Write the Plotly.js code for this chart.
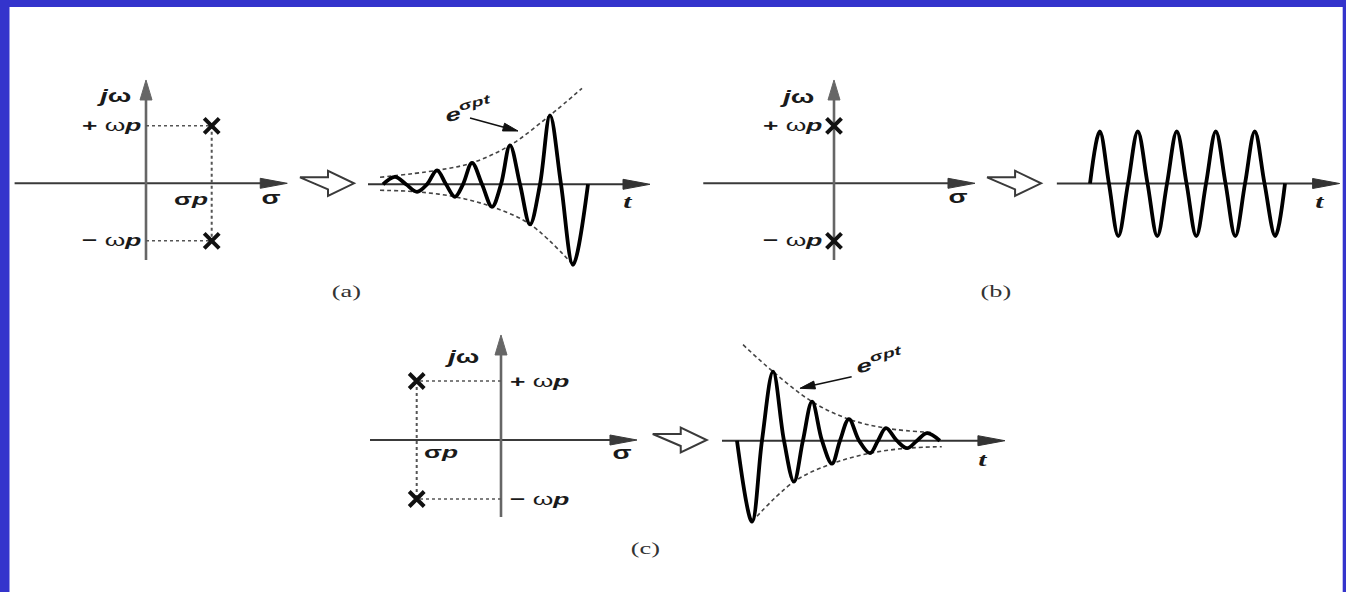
<!DOCTYPE html>
<html><head><meta charset="utf-8">
<script src="https://cdn.plot.ly/plotly-3.0.1.min.js"></script>
<style>html,body{margin:0;padding:0;background:#fff;overflow:hidden}#chart{width:1346px;height:592px}</style>
</head><body><div id="chart"></div>
<script>
// ---------------- data ----------------
// pole positions (sigma in units of sigma_p, omega in units of omega_p)
const poleSigmaA = [1, 1];
const poleOmegaA = [1, -1];
const poleSigmaB = [0, 0];
const poleOmegaB = [1, -1];
const poleSigmaC = [-1, -1];
const poleOmegaC = [1, -1];

// (a) growing oscillation: extrema and zero crossings
const timeA = [0, 0.6, 1.15, 1.7, 2.2, 2.7, 3.15, 3.6, 4.0, 4.45, 4.95, 5.45, 5.9, 6.35, 6.85, 7.35, 7.85, 8.35, 8.9, 9.5, 10.25];
const waveA = [0, 0.75, 0, -0.75, 0, 1.4, 0, -1.25, 0, 2.15, 0, -2.25, 0, 3.9, 0, -4.0, 0, 6.9, 0, -8.05, 0];
const envUpTimeA = [-0.15, 2.7, 4.45, 6.35, 8.35, 9.95];
const envUpA = [0.7, 1.4, 2.15, 3.9, 6.9, 9.6];
const envLoTimeA = [-0.15, 1.7, 3.6, 5.45, 7.35, 9.5];
const envLoA = [-0.6, -0.75, -1.25, -2.25, -4.0, -8.05];

// (b) constant-amplitude oscillation
const timeB = [0, 0.5, 0.97, 1.45, 1.95, 2.45, 2.95, 3.45, 3.95, 4.45, 4.95, 5.45, 5.95, 6.45, 6.95, 7.45, 7.95, 8.45, 8.95, 9.5, 10.0];
const waveB = [0, 5.2, 0, -5.25, 0, 5.2, 0, -5.25, 0, 5.2, 0, -5.25, 0, 5.2, 0, -5.25, 0, 5.2, 0, -5.25, 0];

// (c) decaying oscillation
const timeC = [0, 0.77, 1.28, 1.85, 2.41, 2.92, 3.38, 3.85, 4.36, 4.87, 5.28, 5.74, 6.26, 6.82, 7.23, 7.64, 8.2, 8.72, 9.23, 9.74, 10.4];
const waveC = [0, -8.1, 0, 6.9, 0, -4.1, 0, 3.9, 0, -2.3, 0, 2.15, 0, -1.25, 0, 1.25, 0, -0.75, 0, 0.75, 0];
const envUpTimeC = [0.31, 1.85, 3.85, 5.74, 7.64, 10.1];
const envUpC = [9.6, 6.9, 3.9, 2.15, 1.25, 0.8];
const envLoTimeC = [0.77, 2.92, 4.87, 6.82, 8.72, 10.5];
const envLoC = [-8.1, -4.1, -2.3, -1.25, -0.75, -0.6];

// captions
const captions = ['(a)', '(b)', '(c)'];

// ---------------- layout helpers ----------------
const W = 1346, H = 592;
const P = {
  ap: {xa: 'x',  ya: 'y',  n: '',  box: [10, 70, 365, 275],   ox: 146,  oy: 183.3, sx: 65.7, sy: 57.5},
  at: {xa: 'x2', ya: 'y2', n: '2', box: [365, 70, 665, 282],  ox: 383,  oy: 184.3, sx: 20,   sy: 10},
  bp: {xa: 'x3', ya: 'y3', n: '3', box: [690, 70, 1050, 275], ox: 834,  oy: 183.3, sx: 65.7, sy: 57.5},
  bt: {xa: 'x4', ya: 'y4', n: '4', box: [1050, 70, 1342, 275],ox: 1090, oy: 183.5, sx: 19.5, sy: 10},
  cp: {xa: 'x5', ya: 'y5', n: '5', box: [360, 325, 715, 530], ox: 501,  oy: 440,   sx: 84.3, sy: 59},
  ct: {xa: 'x6', ya: 'y6', n: '6', box: [715, 325, 1020, 540],ox: 737,  oy: 440.7, sx: 19.5, sy: 10}
};

const layout = {
  width: W, height: H, autosize: false,
  margin: {l: 0, r: 0, t: 0, b: 0, pad: 0},
  paper_bgcolor: '#ffffff', plot_bgcolor: 'rgba(0,0,0,0)',
  showlegend: false, shapes: [], annotations: []
};
for (const k in P) {
  const p = P[k], b = p.box;
  layout['xaxis' + p.n] = {domain: [b[0] / W, b[2] / W], range: [(b[0] - p.ox) / p.sx, (b[2] - p.ox) / p.sx],
    visible: false, fixedrange: true, anchor: p.ya};
  layout['yaxis' + p.n] = {domain: [1 - b[3] / H, 1 - b[1] / H], range: [(p.oy - b[3]) / p.sy, (p.oy - b[1]) / p.sy],
    visible: false, fixedrange: true, anchor: p.xa};
}
const shapes = layout.shapes, anns = layout.annotations;
function px(p, t, v) { return [p.ox + t * p.sx, p.oy - v * p.sy]; }
function arrowHead(p, t, v, dx, dy, L, hw, color) {
  const n = Math.hypot(dx, dy); dx /= n; dy /= n;
  const bx = -L * dx, by = -L * dy, qx = -dy * hw, qy = dx * hw;
  return {type: 'path', xref: p.xa, yref: p.ya, xsizemode: 'pixel', ysizemode: 'pixel', xanchor: t, yanchor: v,
    path: `M0,0 L${(bx + qx).toFixed(2)},${(by + qy).toFixed(2)} L${(bx - qx).toFixed(2)},${(by - qy).toFixed(2)} Z`,
    fillcolor: color, line: {color: color, width: 1}, layer: 'above'};
}
function arrowLine(p, t0, v0, t1, v1, color, width, L, hw, layer) {
  const a = px(p, t0, v0), c = px(p, t1, v1);
  const dx = c[0] - a[0], dy = -(c[1] - a[1]);
  const n = Math.hypot(dx, dy), f = (n - L * 0.6) / n;
  shapes.push({type: 'line', xref: p.xa, yref: p.ya, x0: t0, y0: v0, x1: t0 + (t1 - t0) * f, y1: v0 + (v1 - v0) * f,
    line: {color: color, width: width}, layer: layer || 'below'});
  shapes.push(arrowHead(p, t1, v1, dx, dy, L, hw, color));
}
function outlineArrow(p, t, v) {
  shapes.push({type: 'path', xref: p.xa, yref: p.ya, xsizemode: 'pixel', ysizemode: 'pixel', xanchor: t, yanchor: v,
    path: 'M0,6 L28,6 L28,12.5 L54,0 L28,-12.5 L28,-6 Z', fillcolor: '#ffffff', line: {color: '#3a3a3a', width: 2}});
}
function label(p, t, v, text, o) {
  o = o || {};
  anns.push({xref: p.xa, yref: p.ya, x: t, y: v, text: text, showarrow: false,
    xanchor: o.xanchor || 'center', yanchor: 'middle', textangle: o.angle || 0,
    font: {family: o.family || 'Liberation Sans, Arial, sans-serif', size: o.size || 17, color: o.color || '#1a1a1a'}});
}

const traces = [];
// ---------------- pole-zero plots ----------------
function polePlot(p, sig, om, hx, vy) {
  arrowLine(p, hx[0], 0, hx[1], 0, '#3a3a3a', 2, 27, 5);
  arrowLine(p, 0, vy[0], 0, vy[1], '#666', 2.6, 20, 6);
  for (let i = 0; i < sig.length; i++) {
    if (sig[i] !== 0) traces.push({type: 'scatter', mode: 'lines', xaxis: p.xa, yaxis: p.ya, x: [0, sig[i]], y: [om[i], om[i]],
      line: {color: '#555', width: 1.5, dash: '3px,3px'}, hoverinfo: 'skip'});
  }
  if (sig[0] !== 0) traces.push({type: 'scatter', mode: 'lines', xaxis: p.xa, yaxis: p.ya, x: [sig[0], sig[1]], y: [om[0], om[1]],
    line: {color: '#555', width: 2, dash: 'dot'}, hoverinfo: 'skip'});
  traces.push({type: 'scatter', mode: 'markers', xaxis: p.xa, yaxis: p.ya, x: sig, y: om, cliponaxis: false,
    marker: {symbol: 'x-thin-open', size: 15, color: '#111', line: {color: '#111', width: 4}}, hoverinfo: 'skip'});
}
polePlot(P.ap, poleSigmaA, poleOmegaA, [-2.0, 2.15], [-1.334, 1.797]);
polePlot(P.bp, poleSigmaB, poleOmegaB, [-1.99, 2.146], [-1.334, 1.797]);
polePlot(P.cp, poleSigmaC, poleOmegaC, [-1.554, 1.613], [-1.305, 1.78]);

outlineArrow(P.ap, 2.344, 0);
outlineArrow(P.bp, 2.33, 0);
outlineArrow(P.cp, 1.80, 0);

// pole-plot labels
label(P.ap, -0.49, 1.52, '<b><i>j</i>ω</b>', {size: 18});
label(P.ap, -0.05, 1, '<b>+</b> ω<b><i>p</i></b>', {xanchor: 'right'});
label(P.ap, -0.05, -1, '<b>−</b> ω<b><i>p</i></b>', {xanchor: 'right'});
label(P.ap, 0.69, -0.29, '<b>σ<i>p</i></b>');
label(P.ap, 1.91, -0.26, '<b>σ</b>', {size: 18});

label(P.bp, -0.56, 1.5, '<b><i>j</i>ω</b>', {size: 18});
label(P.bp, -0.15, 1, '<b>+</b> ω<b><i>p</i></b>', {xanchor: 'right'});
label(P.bp, -0.15, -1, '<b>−</b> ω<b><i>p</i></b>', {xanchor: 'right'});
label(P.bp, 1.89, -0.23, '<b>σ</b>', {size: 18});

label(P.cp, -0.46, 1.41, '<b><i>j</i>ω</b>', {size: 18});
label(P.cp, 0.08, 1, '<b>+</b> ω<b><i>p</i></b>', {xanchor: 'left'});
label(P.cp, 0.08, -1, '<b>−</b> ω<b><i>p</i></b>', {xanchor: 'left'});
label(P.cp, -0.71, -0.22, '<b>σ<i>p</i></b>');
label(P.cp, 1.43, -0.22, '<b>σ</b>', {size: 18});

// ---------------- time responses ----------------
function envTrace(p, t, v) {
  traces.push({type: 'scatter', mode: 'lines', xaxis: p.xa, yaxis: p.ya, x: t, y: v,
    line: {color: '#444', width: 1.6, dash: '4px,3px', shape: 'spline', smoothing: 1}, hoverinfo: 'skip'});
}
function waveTrace(p, t, v) {
  traces.push({type: 'scatter', mode: 'lines', xaxis: p.xa, yaxis: p.ya, x: t, y: v,
    line: {color: '#000', width: 3.8, shape: 'spline', smoothing: 1}, hoverinfo: 'skip'});
}
arrowLine(P.at, -0.75, 0, 13.35, 0, '#333', 2, 27, 5);
arrowLine(P.bt, -1.7, 0, 12.8, 0, '#333', 2, 27, 5);
arrowLine(P.ct, -0.77, 0, 13.74, 0, '#333', 2, 27, 5);

envTrace(P.at, envUpTimeA, envUpA);
envTrace(P.at, envLoTimeA, envLoA);
waveTrace(P.at, timeA, waveA);
waveTrace(P.bt, timeB, waveB);
envTrace(P.ct, envUpTimeC, envUpC);
envTrace(P.ct, envLoTimeC, envLoC);
waveTrace(P.ct, timeC, waveC);

const tFont = {family: 'Liberation Serif, Times New Roman, serif', size: 19};
label(P.at, 12.25, -1.77, '<b><i>t</i></b>', tFont);
label(P.bt, 11.8, -1.85, '<b><i>t</i></b>', tFont);
label(P.ct, 12.6, -1.9, '<b><i>t</i></b>', tFont);

label(P.at, 4.25, 7.45, '<b><i>e</i><sup>σ<i>pt</i></sup></b>', {size: 18, angle: -15});
arrowLine(P.at, 4.35, 6.63, 6.75, 5.33, '#111', 1.6, 15, 4, 'above');
label(P.ct, 7.33, 8.0, '<b><i>e</i><sup>σ<i>pt</i></sup></b>', {size: 18, angle: -15});
arrowLine(P.ct, 5.88, 6.4, 3.23, 5.24, '#111', 1.6, 15, 4, 'above');

// captions
const capPos = [[347, 291], [996, 291], [645, 548]];
captions.forEach((c, i) => anns.push({xref: 'paper', yref: 'paper', x: capPos[i][0] / W, y: 1 - capPos[i][1] / H,
  text: c, showarrow: false, xanchor: 'center', yanchor: 'middle',
  font: {family: 'Liberation Serif, Times New Roman, serif', size: 17, color: '#333'}}));

// blue frame
const blue = '#3434cc';
shapes.push({type: 'rect', xref: 'paper', yref: 'paper', x0: 0, x1: 9.5 / W, y0: 0, y1: 1, fillcolor: blue, line: {width: 0}});
shapes.push({type: 'rect', xref: 'paper', yref: 'paper', x0: 0, x1: 1, y0: 1 - 7 / H, y1: 1, fillcolor: blue, line: {width: 0}});
shapes.push({type: 'rect', xref: 'paper', yref: 'paper', x0: 1342.7 / W, x1: 1, y0: 0, y1: 1, fillcolor: blue, line: {width: 0}});

// the original figure is horizontally stretched: widen each text label along its baseline
const STRETCH = 1.55;
Plotly.newPlot('chart', traces, layout, {displayModeBar: false, staticPlot: true}).then(gd => {
  gd.querySelectorAll('g.annotation').forEach(g => {
    const i = +g.getAttribute('data-index');
    const a = layout.annotations[i];
    const t = g.querySelector('text.annotation-text');
    if (!t || !a) return;
    const bb = t.getBBox();
    const ox = a.xanchor === 'right' ? bb.x + bb.width : a.xanchor === 'left' ? bb.x : bb.x + bb.width / 2;
    t.setAttribute('transform', `translate(${ox},0) scale(${STRETCH},1) translate(${-ox},0)`);
  });
});
</script></body></html>
